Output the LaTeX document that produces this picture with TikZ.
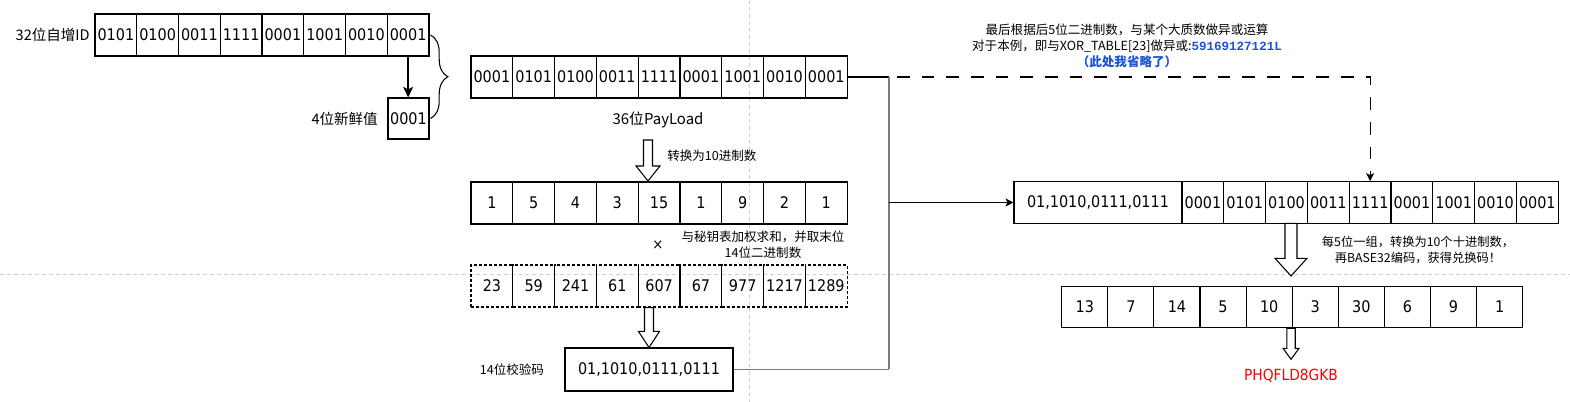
\documentclass[tikz,border=0pt]{standalone}
\usepackage{fontspec}
\setmainfont{DejaVu Sans Condensed}
\newfontfamily\cjk{Noto Sans CJK SC}
\newfontfamily\codefont{Liberation Mono}
\usetikzlibrary{arrows.meta,calc,decorations.pathreplacing}
\definecolor{xorblue}{RGB}{28,84,214}
\definecolor{spinegrey}{RGB}{122,122,122}
\definecolor{guidegrey}{RGB}{208,208,208}
\newcommand{\fatarrow}[5]{%
  \draw[fatarrow] ($#1+(-#3,0)$) -- ($#2+(-#3,-#5)$) -- ($#2+(-#4,-#5)$) -- #2 -- ($#2+(#4,-#5)$) -- ($#2+(#3,-#5)$) -- ($#1+(#3,0)$) -- cycle;}

\begin{document}
\begin{tikzpicture}[x=0.75pt,y=0.75pt,yscale=-1,
  cell/.style={draw, line width=0.8pt, inner sep=0pt, minimum height=31.5pt, font=\fontsize{12}{14}\selectfont},
  wcell/.style={cell, dash pattern=on 2.25pt off 1.5pt},
  lbl/.style={inner sep=0pt, font=\cjk\fontsize{9.4}{12}\selectfont},
  biglbl/.style={inner sep=0pt, font=\cjk\fontsize{10.9}{13}\selectfont},
  link/.style={line width=0.8pt},
  tip/.style={-{Stealth[length=6pt,width=6pt,inset=1.5pt]}},
  spine/.style={draw=spinegrey, line width=1.4pt},
  fatarrow/.style={draw, fill=white, line width=0.8pt},
  guide/.style={draw=guidegrey, line width=0.75pt, dash pattern=on 3pt off 2.25pt}]

        \useasboundingbox (0,0) rectangle (1570,402);
        \draw[guide] (749,0) -- (749,402);
        \draw[guide] (0,275) -- (1570,275);

        \foreach \v [count=\i] in {0101,0100,0011,1111,0001,1001,0010,0001}
          \node[cell, minimum width=31.31pt] (id\i) at ({95+41.75*(\i-0.5)},35) {\v};
        \node[biglbl, anchor=east] (idlbl) at (90,35) {32位自增ID};
        \node[cell, minimum width=30.75pt, minimum height=30.75pt] (fresh) at (408.5,118.5) {0001};
        \node[biglbl, anchor=east] (freshlbl) at (378,119) {4位新鲜值};
        \draw[link, line width=1.1pt, -{Stealth[length=8pt,width=7.5pt,inset=2pt]}] (id8.south) -- (id8.south |- fresh.north);
        \draw[link, decorate, decoration={brace, amplitude=13pt}] ($(id8.east)+(1,0)$) -- ($(fresh.east)+(1,0)$);

        \foreach \v [count=\i] in {0001,0101,0100,0011,1111,0001,1001,0010,0001}
          \node[cell, minimum width=31.35pt] (pl\i) at ({471+41.8*(\i-0.5)},77) {\v};
        \node[inner sep=0pt, font=\cjk\fontsize{11.2}{13}\selectfont] (pllbl) at (658,120) {36位PayLoad};

        \foreach \v [count=\i] in {1,5,4,3,15,1,9,2,1}
          \node[cell, minimum width=31.35pt] (dec\i) at ({471+41.8*(\i-0.5)},203) {\v};
        \coordinate (a1s) at (648,140);
        \coordinate (a1e) at (648,181);
        \fatarrow{(a1s)}{(a1e)}{4.5}{12}{15}
        \node[lbl, anchor=west] (declbl) at (667,156) {转换为10进制数};

        \node[inner sep=0pt, font=\fontsize{11}{13}\selectfont] (times) at (658,245) {×};
        \node[lbl, align=center] (wtlbl) at (763,245) {与秘钥表加权求和，并取末位\\14位二进制数};
        \foreach \v [count=\i] in {23,59,241,61,607,67,977,1217,1289}
          \node[wcell, minimum width=31.35pt] (wt\i) at ({471+41.8*(\i-0.5)},286) {\v};

        \node[cell, minimum width=126pt, minimum height=32.25pt] (chk) at (649,369.5) {01,1010,0111,0111};
        \node[lbl] (chklbl) at (512,370) {14位校验码};
        \fatarrow{(chk |- wt1.south)}{(chk.north)}{4.5}{10.5}{16}

        \node[lbl, align=center] (note) at (1127,46) {最后根据后5位二进制数，与某个大质数做异或运算\\对于本例，即与XOR\_TABLE[23]做异或:{\codefont\bfseries\color{xorblue}59169127121L}\\{\bfseries\color{xorblue}（此处我省略了）}};

        \node[cell, minimum width=126pt, minimum height=31.3pt] (out0) at (1098,202.5) {01,1010,0111,0111};
        \foreach \v [count=\i] in {0001,0101,0100,0011,1111,0001,1001,0010,0001}
          \node[cell, minimum width=31.35pt, minimum height=31.3pt] (out\i) at ({1182+41.8*(\i-0.5)},202.5) {\v};

        \coordinate (a3s) at (1291,223.3);
        \coordinate (a3e) at (1291,276);
        \fatarrow{(a3s)}{(a3e)}{6}{16}{17.7}
        \node[lbl, align=center, font=\cjk\fontsize{9.2}{12.2}\selectfont] (b32lbl) at (1418,250) {每5位一组，转换为10个十进制数，\\再BASE32编码，获得兑换码！};

        \foreach \v [count=\i] in {13,7,14,5,10,3,30,6,9,1}
          \node[cell, minimum width=34.6pt, minimum height=31.3pt] (b\i) at ({1061.7+46.1*(\i-0.5)},307) {\v};
        \coordinate (a4e) at (1291,359.3);
        \fatarrow{(a4e |- b1.south)}{(a4e)}{4.2}{8}{11}
        \node[inner sep=0pt, text=red, font=\fontsize{11.5}{13}\selectfont] (code) at (1291,376) {PHQFLD8GKB};

        \coordinate (jn) at (889,0);
        \draw[link] (pl9.east) -- (pl9.east -| jn);
        \draw[spine] (pl9.east -| jn) -- (chk.east -| jn);
        \draw[draw=spinegrey, line width=1pt] (chk.east) -- (chk.east -| jn);
        \draw[link, tip] (out0.west -| jn) -- (out0.west);
        \draw[link, tip, dash pattern=on 9.5pt off 9pt] (pl9.east) -| (out5.north);
\end{tikzpicture}
\end{document}
